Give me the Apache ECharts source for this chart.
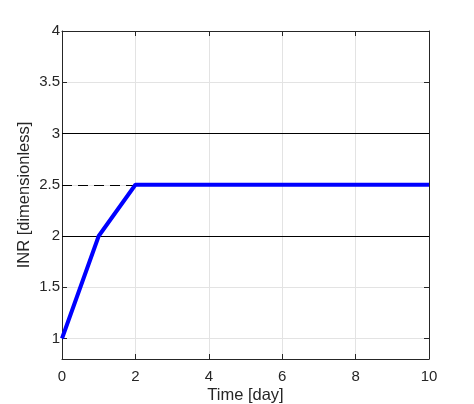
<!DOCTYPE html>
<html><head><meta charset="utf-8">
<script src="https://cdn.jsdelivr.net/npm/echarts@6/dist/echarts.min.js"></script>
<style>html,body{margin:0;padding:0;background:#fff}#c{width:474px;height:404px}</style>
</head><body><div id="c"></div>
<script>
const days = [0, 1, 2, 10];
const inr = [1, 2, 2.5, 2.5];
const xTicks = [0, 2, 4, 6, 8, 10];
const yTicks = [1, 1.5, 2, 2.5, 3, 3.5, 4];
const limitLines = [2, 3];
const targetLine = { value: 2.5, from: 0, to: 2 };

const font = 'Liberation Sans, Arial, Helvetica, sans-serif';
const txt = '#262626';
const gridColor = '#e3e3e3';

const chart = echarts.init(document.getElementById('c'), null, { renderer: 'canvas' });
const baseX = {
  type: 'value', min: 0, max: 10, interval: 2,
  axisLine: { show: true, onZero: false, lineStyle: { color: txt, width: 1 } },
  axisTick: { show: true, inside: true, length: 5, lineStyle: { color: txt } },
  splitLine: { show: false }
};
const baseY = {
  type: 'value', min: 0.8, max: 4,
  axisLine: { show: true, onZero: false, lineStyle: { color: txt, width: 1 } },
  axisTick: { show: true, inside: true, length: 5, customValues: yTicks, lineStyle: { color: txt } },
  splitLine: { show: false }
};
chart.setOption({
  animation: false,
  grid: { left: 62, top: 31, right: 45, bottom: 45, containLabel: false, outerBoundsMode: 'none' },
  xAxis: [
    Object.assign({}, baseX, {
      position: 'bottom',
      name: 'Time [day]', nameLocation: 'middle', nameGap: 28, nameMoveOverlap: false,
      nameTextStyle: { color: txt, fontSize: 16.5, fontFamily: font },
      axisLabel: { color: txt, fontSize: 15, fontFamily: font, margin: 10 },
      splitLine: { show: true, lineStyle: { color: gridColor, width: 1 } }
    }),
    Object.assign({}, baseX, { position: 'top', axisLabel: { show: false } })
  ],
  yAxis: [
    Object.assign({}, baseY, {
      position: 'left',
      name: 'INR [dimensionless]', nameLocation: 'middle', nameGap: 29, nameMoveOverlap: false,
      nameTextStyle: { color: txt, fontSize: 16.5, fontFamily: font },
      axisLabel: { color: txt, fontSize: 15, fontFamily: font, margin: 2, customValues: yTicks },
      splitLine: { show: true, lineStyle: { color: gridColor, width: 1 } }
    }),
    Object.assign({}, baseY, { position: 'right', axisLabel: { show: false } })
  ],
  series: [
    {
      type: 'line', xAxisIndex: 0, yAxisIndex: 0,
      data: days.map((d, i) => [d, inr[i]]),
      symbol: 'none',
      lineStyle: { color: '#0000ff', width: 4 },
      z: 5,
      markLine: {
        silent: true, symbol: 'none', label: { show: false },
        data: limitLines.map(v => [
          { coord: [0, v], lineStyle: { color: '#000', width: 1, type: 'solid' } },
          { coord: [10, v] }
        ]).concat([[
          { coord: [targetLine.from, targetLine.value], lineStyle: { color: '#000', width: 1, type: [10, 6] } },
          { coord: [targetLine.to, targetLine.value] }
        ]])
      }
    }
  ]
});
</script></body></html>
